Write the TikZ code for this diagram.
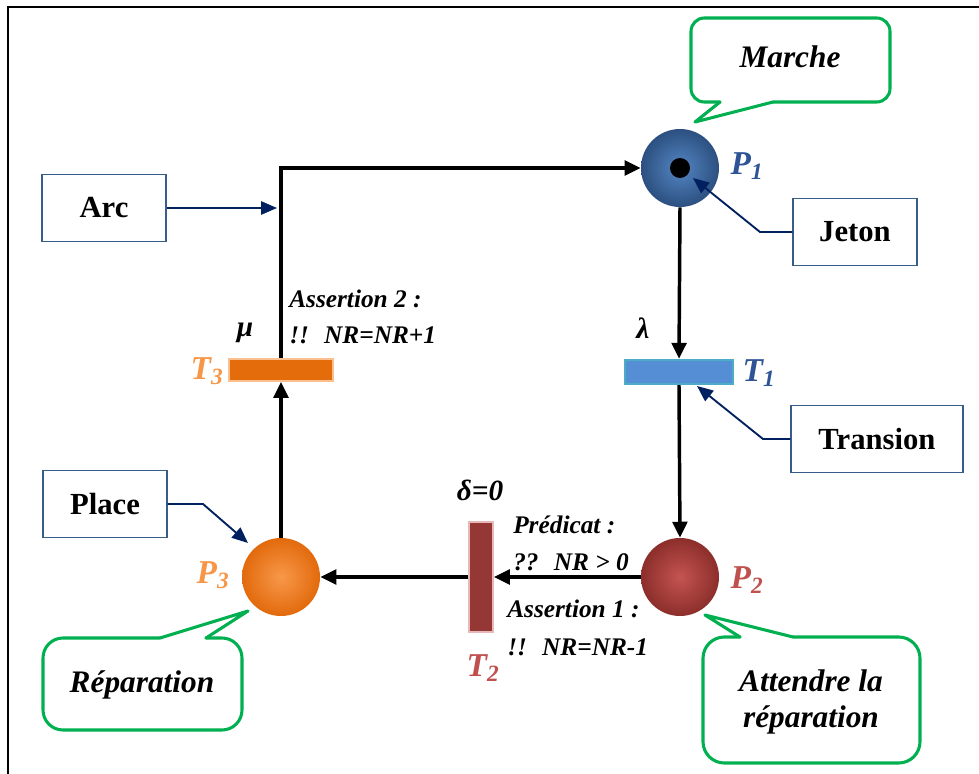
\documentclass[tikz,border=0pt]{standalone}
\usepackage{fontspec}
\setmainfont{Liberation Serif}
\usetikzlibrary{arrows.meta}
\definecolor{boxblue}{RGB}{56,93,138}
\definecolor{annnavy}{RGB}{0,32,96}
\definecolor{callgreen}{RGB}{0,176,80}
\definecolor{labblue}{RGB}{46,84,150}
\definecolor{labred}{RGB}{192,80,77}
\definecolor{laborange}{RGB}{247,150,70}
\tikzset{
  place/.style={circle, minimum size=58.5pt, inner sep=0pt, draw=none},
  tokendot/.style={circle, fill=black, minimum size=15pt, inner sep=0pt},
  infobox/.style={draw=boxblue, line width=1.1pt, fill=white, minimum height=50pt, inner sep=0pt,
    font=\fontsize{23}{27}\selectfont\bfseries},
  arcline/.style={line width=2.6pt, -{Triangle[length=12pt,width=11pt]}},
  annarrow/.style={draw=annnavy, line width=1.4pt, -{Triangle[length=12pt,width=10pt]}},
  callout/.style={draw=callgreen, line width=2.3pt, line join=round, line cap=round},
  plabel/.style={font=\fontsize{25}{30}\selectfont\bfseries\itshape, inner sep=0pt},
  greek/.style={font=\fontsize{22}{26}\selectfont\bfseries\itshape, inner sep=0pt},
  smalltxt/.style={font=\fontsize{19}{22}\selectfont\bfseries\itshape, inner sep=0pt, anchor=base west},
  calltxt/.style={font=\fontsize{23.5}{27}\selectfont\bfseries\itshape, align=center, inner sep=0pt}
}
\begin{document}
\begin{tikzpicture}[x=0.75pt,y=-0.75pt]
\useasboundingbox (0,0) rectangle (979,774);
% frame
\draw[line width=1.5pt] (8,774) -- (8,7) -- (979,7);

% places
\node[place, inner color={rgb,255:red,84;green,134;blue,196}, outer color={rgb,255:red,44;green,80;blue,128}] (P1) at (680,168) {};
\node[tokendot] (tok) at (680,168) {};
\node[place, inner color={rgb,255:red,196;green,84;blue,81}, outer color={rgb,255:red,140;green,46;blue,43}] (P2) at (680,577) {};
\node[place, inner color={rgb,255:red,248;green,152;blue,74}, outer color={rgb,255:red,226;green,106;blue,12}] (P3) at (281,577) {};

% transitions
\node[rectangle, inner sep=0pt, minimum width=81pt, minimum height=18.5pt, fill={rgb,255:red,85;green,142;blue,213}, draw={rgb,255:red,75;green,172;blue,198}, line width=1.3pt] (T1) at (679,372) {};
\node[rectangle, inner sep=0pt, minimum width=18pt, minimum height=83pt, fill={rgb,255:red,149;green,55;blue,53}, draw={rgb,255:red,230;green,185;blue,184}, line width=1.3pt] (T2) at (481,577) {};
\node[rectangle, inner sep=0pt, minimum width=78.5pt, minimum height=16.5pt, fill={rgb,255:red,228;green,108;blue,10}, draw={rgb,255:red,250;green,192;blue,144}, line width=1.3pt] (T3) at (281,370) {};

% labels of places and transitions
\node[plabel, text=labblue] (P1l) at (747,166) {P\textsubscript{1}};
\node[plabel, text=labred] (P2l) at (747,580) {P\textsubscript{2}};
\node[plabel, text=laborange] (P3l) at (213,575) {P\textsubscript{3}};
\node[plabel, text=labblue] (T1l) at (759,373) {T\textsubscript{1}};
\node[plabel, text=labred] (T2l) at (483,668) {T\textsubscript{2}};
\node[plabel, text=laborange] (T3l) at (207,371) {T\textsubscript{3}};

\node[greek] (lam) at (643,328) {λ};
\node[greek] (mu) at (245,333) {μ};
\node[greek] (del) at (480,490) {δ=0};

% guards / assertions
\node[smalltxt] (as2a) at (289,307) {Assertion 2 :};
\node[smalltxt] (as2b) at (289,343) {!!\hspace{0.6em}NR=NR+1};
\node[smalltxt] (pr1) at (513,533) {Prédicat :};
\node[smalltxt] (pr2) at (513,570) {??\hspace{0.6em}NR > 0};
\node[smalltxt] (as1a) at (507,617) {Assertion 1 :};
\node[smalltxt] (as1b) at (507,655) {!!\hspace{0.6em}NR=NR-1};

% arcs
\draw[arcline] (P1.south) -- (T1.north);
\draw[arcline] (T1.south) -- (P2.north);
\draw[arcline] (P2.west) -- (T2.east);
\draw[arcline] (T2.west) -- (P3.east);
\draw[arcline] (P3.north) -- (T3.south);
\draw[arcline] (T3.north) |- (P1.west);

% info boxes
\node[infobox, minimum width=93pt] (Arc) at (104,208) {Arc};
\node[infobox, minimum width=93pt] (Jeton) at (855,232) {Jeton};
\node[infobox, minimum width=129pt] (Trans) at (877,439) {Transion};
\node[infobox, minimum width=93pt] (Place) at (105,504) {Place};

\coordinate (arcTip) at (277,208);
\coordinate (jetK) at (760,232);
\coordinate (jetTip) at (693,178);
\coordinate (trK) at (763,439);
\coordinate (trTip) at (697,386);
\coordinate (plK) at (203,504);
\coordinate (plTip) at (248,543);
\draw[annarrow] (Arc.east) -- (arcTip);
\draw[annarrow] (Jeton.west) -- (jetK) -- (jetTip);
\draw[annarrow] (Trans.west) -- (trK) -- (trTip);
\draw[annarrow] (Place.east) -- (plK) -- (plTip);

% callouts
\draw[callout, rounded corners=10pt] (773,102) -- (890,102) -- (890,18) -- (691,18) -- (691,102) -- (720,102);
\draw[callout] (720,102) -- (695,122) -- (773,102);
\node[calltxt] (Marche) at (790,57) {Marche};

\draw[callout, rounded corners=15pt] (160,638) -- (43,638) -- (43,730) -- (242,730) -- (242,638) -- (206,638);
\draw[callout] (206,638) -- (248,611) -- (160,638);
\node[calltxt] (Rep) at (142,685) {Réparation};

\draw[callout, rounded corners=16pt] (740,637) -- (703,637) -- (703,763) -- (920,763) -- (920,637) -- (793,637);
\draw[callout] (793,637) -- (705,615) -- (740,637);
\node[calltxt] (Att) at (811,702) {Attendre la\\réparation};
\end{tikzpicture}
\end{document}
